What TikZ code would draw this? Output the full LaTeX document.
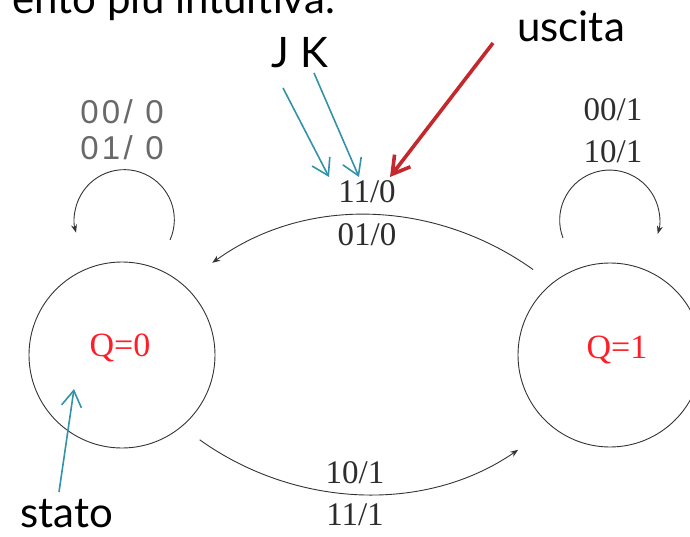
\documentclass[tikz,border=0pt]{standalone}
\usepackage{fontspec}
\setmainfont{Liberation Serif}
\newfontfamily\notefont{Lato}
\newfontfamily\loopfont[LetterSpace=10]{Liberation Sans}
\usetikzlibrary{arrows.meta,calc}

\definecolor{edgegray}{RGB}{45,45,45}
\definecolor{loopgray}{RGB}{105,105,105}
\definecolor{noteteal}{RGB}{52,146,168}
\definecolor{notered}{RGB}{196,40,44}
\definecolor{statered}{RGB}{255,30,40}

\begin{document}
\begin{tikzpicture}[x=1pt,y=1pt,
  state/.style={circle,draw=black!80,line width=0.9pt,minimum size=#1,inner sep=0pt},
  statetext/.style={font=\fontsize{34}{34}\selectfont,text=statered,inner sep=0pt},
  trans/.style={draw=black!80,line width=0.9pt,-{Stealth[length=8pt,width=6pt]}},
  edgelabel/.style={font=\fontsize{33}{33}\selectfont,text=edgegray,inner sep=0pt},
  looplabel/.style={font=\loopfont\fontsize{33}{33}\selectfont,text=loopgray,inner sep=0pt},
  note/.style={font=\notefont\fontsize{42}{42}\selectfont,inner sep=0pt,anchor=base},
  pointer/.style={draw=noteteal,line width=1.6pt,-{Straight Barb[length=16pt,width=20pt]}},
  redpointer/.style={draw=notered,line width=3.6pt,-{Straight Barb[length=17pt,width=20pt]}}]

\useasboundingbox (0,0) rectangle (690,536);
\clip (0,0) rectangle (690,536);

% the two states
\node[state=186pt] (s0) at (122,181) {};
\node[state=184pt] (s1) at (610,181) {};
\node[statetext] (q0) at (120,188) {Q=0};
\node[statetext] (q1) at (617,186) {Q=1};

% transitions between the states
\draw[trans] ($(s1.center)+(132:115)$) .. controls (437,335) and (308,342) .. ($(s0.center)+(45.6:129)$);
\draw[trans] ($(s0.center)+(-47.5:115)$) .. controls (295,28) and (425,22) .. ($(s1.center)+(225.9:132)$);

% self loops
\draw[trans] ($(s0.center)+(48,115)$) arc[start angle=-24,end angle=195,radius=50];
\draw[trans] ($(s1.center)+(-47,117)$) arc[start angle=201,end angle=-16,radius=50];

% transition labels
\node[edgelabel] (l10) at (367,344) {11/0};
\node[edgelabel] (l01) at (367,301) {01/0};
\node[edgelabel] (l101) at (355,63) {10/1};
\node[edgelabel] (l111) at (355,21) {11/1};
\node[looplabel] (a00) at (122,424) {00/ 0};
\node[looplabel] (a01) at (122,388) {01/ 0};
\node[edgelabel] (b00) at (613,426) {00/1};
\node[edgelabel] (b10) at (613,384) {10/1};

% annotations
\node[note,anchor=base east] (head) at (335,522) {ento più intuitiva.};
\node[note] (jk) at (300,468) {J K};
\node[note] (out) at (571,494) {uscita};
\node[note] (st) at (67,9) {stato};

\coordinate (jfoot) at (283,448);
\coordinate (kfoot) at (314,463);
\coordinate (ufoot) at (493,493);
\coordinate (sfoot) at (59,44);
\coordinate (jtip) at (329,359);
\coordinate (ktip) at (359,359);
\coordinate (utip) at (390,359);
\coordinate (stip) at (74,147);
\draw[pointer] (jfoot) -- (jtip);
\draw[pointer] (kfoot) -- (ktip);
\draw[redpointer] (ufoot) -- (utip);
\draw[pointer] (sfoot) -- (stip);
\end{tikzpicture}
\end{document}
